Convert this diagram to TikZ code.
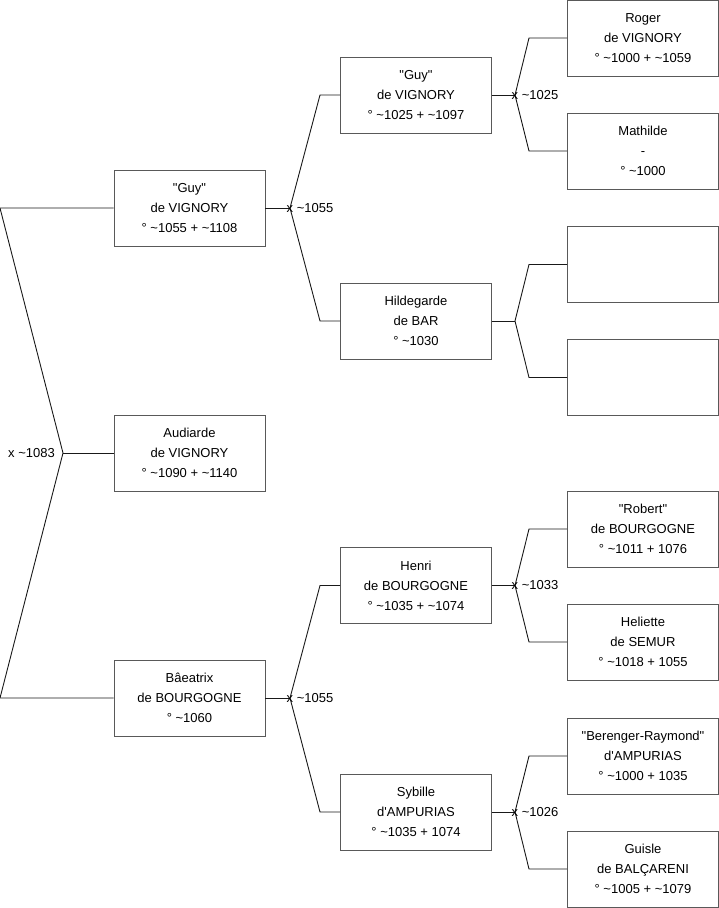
\documentclass[tikz,border=0pt]{standalone}
\usepackage{fontspec}
\newfontfamily\treefont{Liberation Sans}
\usepackage{tikz}
\usetikzlibrary{calc}

\begin{document}
\begin{tikzpicture}[x=1pt,y=-1pt,font=\treefont\fontsize{13}{20}\selectfont,
 box/.style={draw=black!65,line width=.9pt,align=center,minimum width=151pt,minimum height=76pt,inner sep=0pt},
 link/.style={draw=black!90,line width=.9pt},
 wed/.style={anchor=west,inner sep=0pt}]
\useasboundingbox (0,0) rectangle (719,908);
% first generation
\node[box] (guyA) at (189.5,208) {"Guy"\\de VIGNORY\\° \textasciitilde1055 + \textasciitilde1108};
\node[box] (audiarde) at (189.5,453) {Audiarde\\de VIGNORY\\° \textasciitilde1090 + \textasciitilde1140};
\node[box] (beatrix) at (189.5,698) {Bâeatrix\\de BOURGOGNE\\° \textasciitilde1060};
% second generation
\node[box] (guyB) at (416,95) {"Guy"\\de VIGNORY\\° \textasciitilde1025 + \textasciitilde1097};
\node[box] (hildegarde) at (416,321) {Hildegarde\\de BAR\\° \textasciitilde1030};
\node[box] (henri) at (416,585.5) {Henri\\de BOURGOGNE\\° \textasciitilde1035 + \textasciitilde1074};
\node[box] (sybille) at (416,812) {Sybille\\d'AMPURIAS\\° \textasciitilde1035 + 1074};
% third generation
\node[box] (roger) at (643,38) {Roger\\de VIGNORY\\° \textasciitilde1000 + \textasciitilde1059};
\node[box] (mathilde) at (643,151) {Mathilde\\-\\° \textasciitilde1000};
\node[box] (emptyA) at (643,264.5) {};
\node[box] (emptyB) at (643,377.5) {};
\node[box] (robert) at (643,529) {"Robert"\\de BOURGOGNE\\° \textasciitilde1011 + 1076};
\node[box] (heliette) at (643,642) {Heliette\\de SEMUR\\° \textasciitilde1018 + 1055};
\node[box] (berenger) at (643,756) {"Berenger-Raymond"\\d'AMPURIAS\\° \textasciitilde1000 + 1035};
\node[box] (guisle) at (643,869) {Guisle\\de BALÇARENI\\° \textasciitilde1005 + \textasciitilde1079};

% junctions
\coordinate (jA) at (63,453);
\coordinate (fA) at (0,208);
\coordinate (mA) at (0,698);
\coordinate (jB) at (290,208);
\coordinate (jC) at (290,698);
\coordinate (jD) at (515,95);
\coordinate (jE) at (515,321);
\coordinate (jF) at (515,585.5);
\coordinate (jG) at (515,812);

\draw[link] (guyA.west) -- (fA) -- (jA) -- (mA) -- (beatrix.west);
\draw[link] (jA) -- (audiarde.west);
\node[anchor=east,inner sep=0pt] (wA) at ($(jA)+(-8,0)$) {x \textasciitilde1083};

\foreach \c/\j/\f/\m/\bx/\lbl in {guyA/jB/guyB/hildegarde/320/1055,beatrix/jC/henri/sybille/320/1055,
  guyB/jD/roger/mathilde/529/1025,hildegarde/jE/emptyA/emptyB/529/0,
  henri/jF/robert/heliette/529/1033,sybille/jG/berenger/guisle/529/1026}{
  \draw[link] (\c.east) -- (\j);
  \draw[link] (\f.west) -- (\bx,0 |- \f.west) -- (\j) -- (\bx,0 |- \m.west) -- (\m.west);
  \ifnum\lbl>0
  \node[wed] at ($(\j)+(-3.5,0)$) {x \textasciitilde\lbl};
  \fi
}
\end{tikzpicture}
\end{document}
